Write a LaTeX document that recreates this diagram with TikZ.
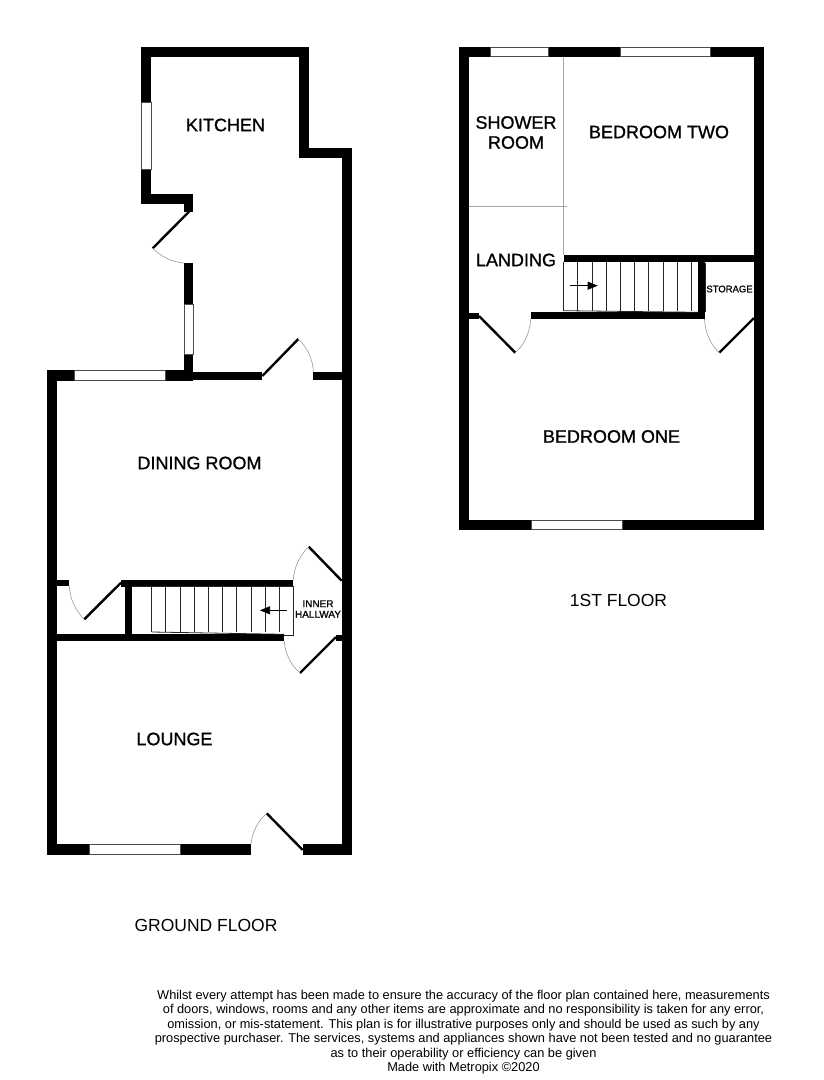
\documentclass[tikz,border=0pt]{standalone}
\usepackage{fontspec}
\setmainfont{Liberation Sans}
\newfontfamily\roomfont[FakeBold=1.0]{Liberation Sans}
\usetikzlibrary{arrows.meta}
\tikzset{
  wall/.style={fill=black,draw=none},
  win/.style={fill=white,draw=black!70,line width=0.7pt},
  doorleaf/.style={draw=black,line width=2.4pt},
  swing/.style={draw=black!40,line width=0.6pt},
  partition/.style={draw=black!35,line width=0.6pt},
  tread/.style={draw=black!85,line width=0.8pt},
  stairarrow/.style={draw=black,line width=0.6pt,-{Triangle[length=10pt,width=8pt]}},
  room/.style={font=\roomfont\fontsize{18}{20}\selectfont,align=center,inner sep=0pt,text=black},
  small/.style={font=\roomfont\fontsize{10}{10.5}\selectfont,align=center,inner sep=0pt},
  smallb/.style={font=\roomfont\fontsize{9.5}{11}\selectfont,align=center,inner sep=0pt},
  caption/.style={font=\fontsize{17.5}{19}\selectfont,inner sep=0pt},
  note/.style={font=\fontsize{12.8}{14.5}\selectfont,align=center,inner sep=0pt}
}
\begin{document}
\begin{tikzpicture}[x=1pt,y=-1pt]
\useasboundingbox (0,0) rectangle (824,1080);
% ---------- ground floor walls
\fill[wall] (141,46.7) rectangle (309.3,56.7);
\fill[wall] (141,46.7) rectangle (151.3,204);
\fill[wall] (141,194) rectangle (193.3,204);
\fill[wall] (184,194) rectangle (193.3,211.7);
\fill[wall] (299.3,46.7) rectangle (309.3,158.3);
\fill[wall] (299.3,148.3) rectangle (352,158.3);
\fill[wall] (342,148.3) rectangle (352.3,855);
\fill[wall] (184,263) rectangle (193.3,380);
\fill[wall] (184,371.7) rectangle (262.3,380);
\fill[wall] (313.3,371.7) rectangle (342,380);
\fill[wall] (46.7,370) rectangle (193.3,380.7);
\fill[wall] (46.7,370) rectangle (57,855);
\fill[wall] (46.7,844.3) rectangle (251,855);
\fill[wall] (302.7,844.3) rectangle (352.3,855);
\fill[wall] (57,580) rectangle (69.3,586);
\fill[wall] (121,579.7) rectangle (293.3,586.5);
\fill[wall] (125,580) rectangle (131.7,636);
\fill[wall] (57,634.3) rectangle (284.3,641);
\fill[wall] (336,635) rectangle (342,641);
% ground floor windows
\draw[win] (141,102.3) rectangle (151.3,169);
\draw[win] (184,304.3) rectangle (193.8,354.3);
\draw[win] (74.3,370.5) rectangle (165.7,380.4);
\draw[win] (89.3,844.7) rectangle (180.7,854.8);
% ground floor doors
\coordinate (dKh) at (189,211.7); \coordinate (dKe) at (152.7,248.3); \coordinate (dKa) at (184,263);
\draw[doorleaf] (dKh) -- (dKe);
\draw[swing] (dKe) .. controls (160,256) and (172,262) .. (dKa);
\coordinate (dDh) at (262.3,376); \coordinate (dDe) at (298.3,339); \coordinate (dDa) at (313.3,371.7);
\draw[doorleaf] (dDh) -- (dDe);
\draw[swing] (dDe) .. controls (307,347) and (313,359) .. (dDa);
\coordinate (dLh) at (302.7,850); \coordinate (dLe) at (266.7,813.3); \coordinate (dLa) at (251,844.3);
\draw[doorleaf] (dLh) -- (dLe);
\draw[swing] (dLe) .. controls (258,821) and (252,832) .. (dLa);
\coordinate (dCh) at (121,582.7); \coordinate (dCe) at (84.3,619.3); \coordinate (dCa) at (69.3,586);
\draw[doorleaf] (dCh) -- (dCe);
\draw[swing] (dCa) .. controls (70,600) and (76,611) .. (dCe);
\coordinate (dUh) at (341.7,580.7); \coordinate (dUe) at (308.7,546.7); \coordinate (dUa) at (293.3,580);
\draw[doorleaf] (dUh) -- (dUe);
\draw[swing] (dUe) .. controls (300,555) and (294,567) .. (dUa);
\coordinate (dIh) at (336,637); \coordinate (dIe) at (300,673); \coordinate (dIa) at (284.3,641);
\draw[doorleaf] (dIh) -- (dIe);
\draw[swing] (dIa) .. controls (285,654) and (291,665) .. (dIe);
% ground floor stairs
\foreach \tx in {151.7,165.7,180,194.3,208.3,222.7,236.7,251,265.3,279.3,293.3}
  \draw[tread] (\tx,586) -- (\tx,632);
\draw[tread] (151.7,632) -- (284.3,634.3);
\draw[tread] (131.7,586) -- (293.3,586);
\draw[tread] (284.3,635) -- (293.3,635) -- (293.3,586);
\coordinate (gs1) at (286.7,610.3); \coordinate (gs2) at (260,610.3);
\draw[stairarrow] (gs1) -- (gs2);
% ---------- first floor walls
\fill[wall] (459,46.7) rectangle (764.3,56.7);
\fill[wall] (459,46.7) rectangle (469,530);
\fill[wall] (754,46.7) rectangle (764.3,530);
\fill[wall] (459,519.5) rectangle (764.3,530);
\fill[wall] (563.7,255) rectangle (754,262);
\fill[wall] (698.3,255) rectangle (705,319);
\fill[wall] (530.7,312.3) rectangle (705,319);
\fill[wall] (469,312.7) rectangle (479,319);
% first floor windows
\draw[win] (490.7,47) rectangle (548.7,56.5);
\draw[win] (620,47) rectangle (710.7,56.5);
\draw[win] (531.7,520) rectangle (622.7,529.7);
% partitions
\coordinate (p1) at (563.7,56.7); \coordinate (p2) at (563.7,255);
\coordinate (p3) at (469,206.7); \coordinate (p4) at (566.7,206.7);
\draw[partition] (p1) -- (p2);
\draw[partition] (p3) -- (p4);
% first floor doors
\coordinate (dBh) at (479,316); \coordinate (dBe) at (515.3,352.7); \coordinate (dBa) at (530.7,319);
\draw[doorleaf] (dBh) -- (dBe);
\draw[swing] (dBe) .. controls (524,345) and (530,333) .. (dBa);
\coordinate (dSh) at (754,318); \coordinate (dSe) at (719.3,352.7); \coordinate (dSa) at (704.5,319);
\draw[doorleaf] (dSh) -- (dSe);
\draw[swing] (dSa) .. controls (705,333) and (711,345) .. (dSe);
% first floor stairs
\foreach \tx in {563.7,577.7,592.3,606.3,620.3,634.7,648.7,663,677.3,691.3}
  \draw[tread] (\tx,262) -- (\tx,310.7);
\draw[tread] (563.7,310.7) -- (698.3,312.3);
\draw[tread] (705.5,263) -- (705.5,312);
\coordinate (fs1) at (570,285.7); \coordinate (fs2) at (597.7,285.7);
\draw[stairarrow] (fs1) -- (fs2);
% ---------- labels
\node[room] (kitchen) at (225.5,125) {KITCHEN};
\node[room] (dining) at (199.5,463) {DINING ROOM};
\node[room] (lounge) at (174.5,739) {LOUNGE};
\node[small] (hall) at (318,609) {INNER\\HALLWAY};
\node[room] (shower) at (516,132.5) {SHOWER\\ROOM};
\node[room] (bedtwo) at (659,132) {BEDROOM TWO};
\node[room] (landing) at (516,260) {LANDING};
\node[smallb] (storage) at (729.5,289) {STORAGE};
\node[room] (bedone) at (611.5,436.5) {BEDROOM ONE};
\node[caption] (gf) at (206,925.5) {GROUND FLOOR};
\node[caption] (ff) at (618.5,600) {1ST FLOOR};
\node[note] (disc) at (463.5,1032) {Whilst every attempt has been made to ensure the accuracy of the floor plan contained here, measurements\\of doors, windows, rooms and any other items are approximate and no responsibility is taken for any error,\\omission, or mis-statement. This plan is for illustrative purposes only and should be used as such by any\\prospective purchaser. The services, systems and appliances shown have not been tested and no guarantee\\as to their operability or efficiency can be given\\Made with Metropix ©2020};
\end{tikzpicture}
\end{document}
